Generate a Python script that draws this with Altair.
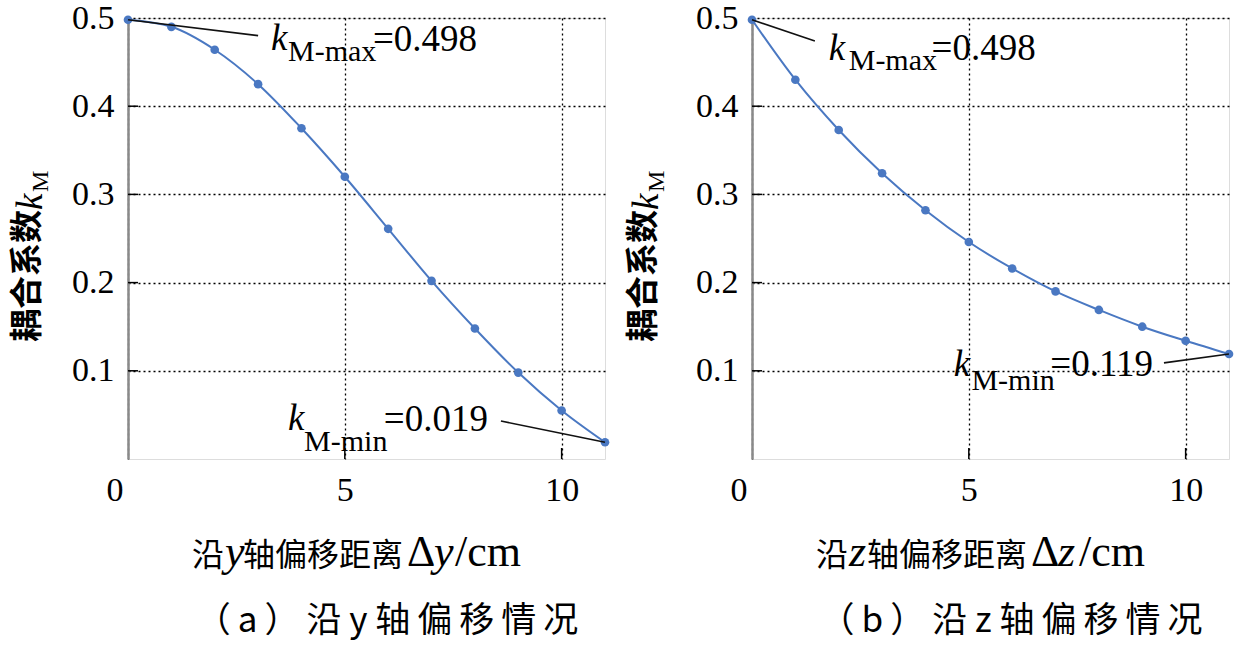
import altair as alt
import pandas as pd

# ---------------- data ----------------
x_vals = list(range(12))
k_y = [0.498, 0.490, 0.464, 0.425, 0.375, 0.320, 0.261, 0.202, 0.148, 0.098, 0.055, 0.019]
k_z = [0.498, 0.430, 0.373, 0.324, 0.282, 0.246, 0.216, 0.190, 0.169, 0.150, 0.134, 0.119]

x_ticks = [0, 5, 10]
y_ticks = [0.1, 0.2, 0.3, 0.4, 0.5]
x_inner_ticks = [5, 10]
y_inner_ticks = [0.1, 0.2, 0.3, 0.4]

# annotation pieces (data coordinates)
ann_y = {
    "k": {"x": [3.30, 3.69], "y": [0.4637, 0.0329]},
    "sub": {"x": [3.69, 4.06], "y": [0.451, 0.0091], "t": ["M-max", "M-min"]},
    "val": {"x": [5.65, 5.90], "y": [0.4626, 0.0317], "t": ["=0.498", "=0.019"]},
    "lead": {"x": [0, 8.6], "y": [0.498, 0.043], "x2": [3.0, 11], "y2": [0.480, 0.019]},
}
ann_z = {
    "k": {"x": [1.77, 4.65], "y": [0.452, 0.094]},
    "sub": {"x": [2.23, 5.06], "y": [0.441, 0.078], "t": ["M-max", "M-min"]},
    "val": {"x": [4.14, 6.88], "y": [0.452, 0.094], "t": ["=0.498", "=0.119"]},
    "lead": {"x": [0, 9.5], "y": [0.498, 0.109], "x2": [1.45, 11], "y2": [0.474, 0.119]},
}

y_title_cjk = "耦合系数"
x_title_cjk = ["沿", "轴偏移距离"]
captions = ["（a）沿 y 轴偏移情况", "（b）沿 z 轴偏移情况"]
variables = ["y", "z"]

SERIF = "Liberation Serif"
CJK = "Noto Sans CJK SC"
W, H = 477, 441
BLUE = "#4a78c2"
TS = "\u2009"  # thin space used as letter spacing in captions


def spaced(s):
    out = ""
    for i, ch in enumerate(s):
        out += ch
        if i < len(s) - 1 and ch != " " and s[i + 1] != " ":
            out += TS
    return out


def one(text):
    return pd.DataFrame({"t": [text]})


def panel(vals, var, ann, caption, ytitle_dx):
    df = pd.DataFrame({"x": x_vals, "k": vals})
    xenc = alt.X(
        "x:Q",
        scale=alt.Scale(domain=[0, 11], nice=False, zero=False),
        axis=alt.Axis(
            values=x_ticks, title="", labelFont=SERIF, labelFontSize=34,
            labelPadding=14, labelColor="#000", ticks=False, domain=False,
            gridDash=[2, 3], gridColor="#000", gridWidth=1.3, gridOpacity=1,
            labelOffset=alt.ExprRef(expr="datum.value == 0 ? -22 : 0"),
        ),
    )
    yenc = alt.Y(
        "k:Q",
        scale=alt.Scale(domain=[0, 0.5], nice=False, zero=False),
        axis=alt.Axis(
            values=y_ticks, title="", labelFont=SERIF, labelFontSize=34,
            labelPadding=14, labelColor="#000", ticks=False, domain=True,
            domainColor="#8a8a8a", domainWidth=2.5,
            gridDash=[2, 3], gridColor="#000", gridWidth=1.3, gridOpacity=1,
            format=".1f",
        ),
    )
    base = alt.Chart(df).encode(x=xenc, y=yenc)
    line = base.mark_line(color=BLUE, strokeWidth=2, interpolate="monotone")
    pts = base.mark_point(filled=True, color=BLUE, size=75, opacity=1)

    # inner ticks
    yt = alt.Chart(pd.DataFrame({"v": y_inner_ticks})).mark_rule(
        color="#000", strokeWidth=1.5
    ).encode(y="v:Q", x=alt.value(0), x2=alt.value(10))
    xt = alt.Chart(pd.DataFrame({"v": x_inner_ticks})).mark_rule(
        color="#000", strokeWidth=1.5
    ).encode(x="v:Q", y=alt.value(H), y2=alt.value(H - 11))

    lead = alt.Chart(pd.DataFrame(ann["lead"])).mark_rule(
        color="#111", strokeWidth=1.6
    ).encode(x="x:Q", y="y:Q", x2="x2:Q", y2="y2:Q")

    kdf = pd.DataFrame({"x": ann["k"]["x"], "y": ann["k"]["y"], "t": ["k", "k"]})
    ktext = alt.Chart(kdf).mark_text(
        font=SERIF, fontSize=37, fontStyle="italic", align="left",
        baseline="alphabetic", color="#000"
    ).encode(x="x:Q", y="y:Q", text="t:N")
    sub = alt.Chart(pd.DataFrame(ann["sub"])).mark_text(
        font=SERIF, fontSize=30, align="left", baseline="alphabetic", color="#000"
    ).encode(x="x:Q", y="y:Q", text="t:N")
    val = alt.Chart(pd.DataFrame(ann["val"])).mark_text(
        font=SERIF, fontSize=37, align="left", baseline="alphabetic", color="#000"
    ).encode(x="x:Q", y="y:Q", text="t:N")

    # y title (rotated, composed)
    yt_cjk = alt.Chart(one(y_title_cjk)).mark_text(
        font=CJK, fontSize=33, fontWeight="bold", angle=270, align="right",
        baseline="alphabetic", color="#000"
    ).encode(text="t:N", x=alt.value(ytitle_dx), y=alt.value(192))
    yt_k = alt.Chart(one("k")).mark_text(
        font=SERIF, fontSize=37, fontStyle="italic", angle=270, align="left",
        baseline="alphabetic", color="#000"
    ).encode(text="t:N", x=alt.value(ytitle_dx + 4), y=alt.value(192))
    yt_m = alt.Chart(one("M")).mark_text(
        font=SERIF, fontSize=24, angle=270, align="left",
        baseline="alphabetic", color="#000"
    ).encode(text="t:N", x=alt.value(ytitle_dx + 10), y=alt.value(174))

    # x title (composed)
    xb = 548
    pieces = [
        (x_title_cjk[0], 64, CJK, 32, "normal"),
        (var, 97, SERIF, 44, "italic"),
        (x_title_cjk[1], 115, CJK, 32, "normal"),
        ("Δ", 279, SERIF, 44, "normal"),
        (var, 306, SERIF, 44, "italic"),
        ("/cm", 327, SERIF, 44, "normal"),
    ]
    xtitle = []
    for txt, px, fnt, fs, st in pieces:
        xtitle.append(
            alt.Chart(one(txt)).mark_text(
                font=fnt, fontSize=fs, fontStyle=st, align="left",
                baseline="alphabetic", color="#000"
            ).encode(text="t:N", x=alt.value(px), y=alt.value(xb))
        )

    cap = alt.Chart(one(spaced(caption))).mark_text(
        font=CJK, fontSize=35, align="center", baseline="middle", color="#000"
    ).encode(text="t:N", x=alt.value(259), y=alt.value(603))

    return alt.layer(
        line, pts, yt, xt, lead, ktext, sub, val, yt_cjk, yt_k, yt_m, *xtitle, cap
    ).properties(width=W, height=H)


left = panel(k_y, variables[0], ann_y, captions[0], -90)
right = panel(k_z, variables[1], ann_z, captions[1], -98)

chart = alt.hconcat(left, right, spacing=17).properties(
    padding={"left": 11, "top": 0, "right": 0, "bottom": 6}
).configure_view(stroke="#111", strokeWidth=1.5).configure(background="white")

chart.save("out.html", embed_options={"renderer": "svg", "actions": False})
